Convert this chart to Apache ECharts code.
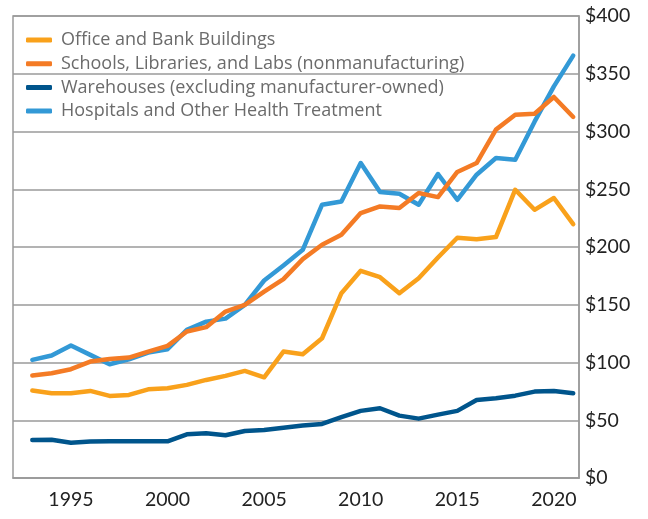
<!DOCTYPE html>
<html><head><meta charset="utf-8">
<script src="https://cdn.jsdelivr.net/npm/echarts@6/dist/echarts.min.js"></script>
<style>html,body{margin:0;padding:0;background:#fff}#c{width:648px;height:519px}</style>
</head><body><div id="c"></div>
<script>
const years = [1993,1994,1995,1996,1997,1998,1999,2000,2001,2002,2003,2004,2005,2006,2007,2008,2009,2010,2011,2012,2013,2014,2015,2016,2017,2018,2019,2020,2021];
const office = [75.7,73.4,73.4,75.4,71.1,71.9,76.8,77.7,80.6,84.9,88.4,92.7,87.2,109.5,107.2,121,160,179.4,173.9,160,173,190.9,208,206.8,208.6,249.6,232.2,242.4,219.8];
const schools = [88.7,90.7,94.2,100.8,103.1,104.3,109.5,114.4,126.8,130.6,144.1,149.9,161.4,172.2,189.5,202,210.6,229.4,235.1,233.7,246.7,243.2,265,272.7,301.6,314.5,315.4,329.9,312.6];
const warehouses = [32.9,33.2,30.6,31.5,31.8,31.8,31.8,31.8,37.8,38.7,37.0,40.7,41.6,43.6,45.4,46.8,52.6,58.1,60.4,54,51.4,54.9,58.1,67.6,69,71.3,74.8,75.4,73.4];
const hospitals = [102.3,106,114.7,106.6,98.5,102.8,108.6,111.5,128.2,135.4,138,149.9,171,184,197.6,236.6,239.4,272.7,247.6,246.1,236.6,263.2,240.9,262.6,277,275.6,308.5,339.1,365.7];
const yTicks = [0,50,100,150,200,250,300,350,400];
const names = ['Office and Bank Buildings','Schools, Libraries, and Labs (nonmanufacturing)','Warehouses (excluding manufacturer-owned)','Hospitals and Other Health Treatment'];
const colors = ['#F9A11B','#F47B25','#00558C','#3399D6'];
const seriesData = [office, schools, warehouses, hospitals];

const chart = echarts.init(document.getElementById('c'), null, {renderer:'canvas'});
chart.setOption({
  animation:false,
  grid:{left:13,right:69,top:16,bottom:41,show:true,borderColor:'#9a9a9a',borderWidth:1.5},
  legend:{
    left:21, top:26, orient:'vertical', itemGap:5.7,
    icon:'roundRect', itemWidth:26, itemHeight:5,
    textStyle:{fontFamily:'Open Sans', fontSize:18, lineHeight:18, color:'#6b6b6b', padding:[0,0,0,4]},
    data:names
  },
  xAxis:{
    type:'value', min:1992, max:2021.3, interval:1,
    axisLine:{show:true,lineStyle:{color:'#9a9a9a',width:1.5}},
    axisTick:{show:false}, splitLine:{show:false},
    axisLabel:{showMaxLabel:false, showMinLabel:false, margin:12, fontFamily:'Lato', fontSize:19.5, color:'#222',
      formatter:v=> (v%5===0 ? String(v) : '')}
  },
  yAxis:{
    type:'value', position:'right', min:0, max:400, interval:50,
    axisLine:{show:true,lineStyle:{color:'#9a9a9a',width:1.5}},
    axisTick:{show:false},
    splitLine:{show:true,lineStyle:{color:'#9a9a9a',width:1.5}},
    axisLabel:{margin:6, fontFamily:'Lato', fontSize:19.5, color:'#222', formatter:v=>'$'+v}
  },
  series: names.map((n,i)=>({
    name:n, type:'line', showSymbol:false, symbol:'none',
    data: years.map((y,j)=>[y, seriesData[i][j]]),
    itemStyle:{color:colors[i]},
    lineStyle:{color:colors[i], width:4.5, cap:'round', join:'round'},
    z: i===3 ? 3 : (i===1 ? 4 : 2)
  }))
});
</script></body></html>
